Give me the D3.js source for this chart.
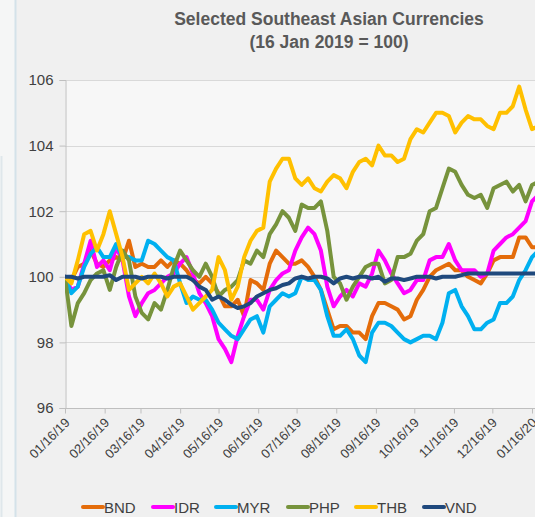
<!DOCTYPE html>
<html>
<head>
<meta charset="utf-8">
<script src="https://cdn.jsdelivr.net/npm/d3@7"></script>
<style>
  html, body { margin: 0; padding: 0; background: #f0f0f0; overflow: hidden; }
  svg { display: block; font-family: "Liberation Sans", Arial, sans-serif; }
</style>
</head>
<body>
<svg id="chart" width="535" height="517"></svg>
<script>
// sample dates (every 5 days from the base date)
var dates = ["2019-01-16","2019-01-21","2019-01-26","2019-01-31","2019-02-05","2019-02-10","2019-02-15","2019-02-20","2019-02-25","2019-03-02",
  "2019-03-07","2019-03-12","2019-03-17","2019-03-22","2019-03-27","2019-04-01","2019-04-06","2019-04-11","2019-04-16","2019-04-21",
  "2019-04-26","2019-05-01","2019-05-06","2019-05-11","2019-05-16","2019-05-21","2019-05-26","2019-05-31","2019-06-05","2019-06-10",
  "2019-06-15","2019-06-20","2019-06-25","2019-06-30","2019-07-05","2019-07-10","2019-07-15","2019-07-20","2019-07-25","2019-07-30",
  "2019-08-04","2019-08-09","2019-08-14","2019-08-19","2019-08-24","2019-08-29","2019-09-03","2019-09-08","2019-09-13","2019-09-18",
  "2019-09-23","2019-09-28","2019-10-03","2019-10-08","2019-10-13","2019-10-18","2019-10-23","2019-10-28","2019-11-02","2019-11-07",
  "2019-11-12","2019-11-17","2019-11-22","2019-11-27","2019-12-02","2019-12-07","2019-12-12","2019-12-17","2019-12-22","2019-12-27",
  "2020-01-01","2020-01-06","2020-01-11","2020-01-16","2020-01-21"];

var bnd = [100,99.9,100.3,100.4,100.8,100.4,100.3,100.5,100.6,100.5,
  101.1,100.3,100.4,100.3,100.3,100.5,100.3,100.5,100.4,100.2,
  99.9,99.8,100.0,99.8,99.5,99.1,99.1,99.3,98.8,99.9,
  99.8,99.6,100.4,100.8,100.6,100.4,100.4,100.5,100.3,100.0,
  99.6,99.0,98.4,98.5,98.5,98.3,98.3,98.1,98.8,99.2,
  99.2,99.1,99.0,98.7,98.8,99.3,99.6,100.0,100.2,100.3,
  100.4,100.2,100.2,100.0,99.9,99.8,100.1,100.5,100.6,100.6,
  100.6,101.2,101.2,100.9,100.9];

var idr = [100,99.6,99.7,100.4,101.1,100.3,100.5,100.2,100.9,100.5,
  99.4,98.8,99.2,99.5,99.6,99.8,100.0,100.1,100.4,100.6,
  100.1,99.5,99.2,98.8,98.1,97.8,97.4,98.2,98.8,99.3,
  99.3,99.0,99.6,99.9,100.1,100.2,100.8,101.2,101.5,101.3,
  100.8,99.7,99.1,99.4,99.6,99.4,99.8,99.7,100.1,100.8,
  100.5,100.1,99.8,99.5,99.6,99.9,99.9,100.5,100.6,100.6,
  101.0,100.5,100.2,100.2,100.2,100.0,100.1,100.8,101.0,101.2,
  101.3,101.5,101.7,102.3,102.5];

var myr = [100,99.5,99.7,100.3,100.7,100.9,100.6,100.6,101.0,100.6,
  100.6,100.5,100.5,101.1,101.0,100.8,100.6,100.5,99.8,99.2,
  99.4,99.3,99.3,99.0,98.6,98.4,98.2,98.1,98.4,98.7,
  98.8,98.3,99.1,99.3,99.5,99.4,99.5,100.0,99.9,99.9,
  99.6,98.8,98.2,98.2,98.4,98.1,97.6,97.4,98.3,98.6,
  98.6,98.5,98.3,98.1,98.0,98.1,98.2,98.2,98.1,98.6,
  99.5,99.6,99.1,98.8,98.4,98.4,98.6,98.7,99.2,99.2,
  99.4,99.9,100.2,100.6,100.8];

var php = [100,98.5,99.2,99.5,99.9,100.1,100.2,99.6,100.3,100.8,
  100.5,99.4,98.9,98.7,99.2,99.0,99.6,100.3,100.8,100.5,
  100.2,100.0,100.4,100.0,99.4,99.6,99.7,99.9,100.5,100.4,
  100.8,100.6,101.3,101.6,102.0,101.8,101.4,102.2,102.1,102.1,
  102.3,101.4,100.0,99.8,99.3,99.7,100.0,100.3,100.4,100.4,
  99.8,99.9,100.6,100.6,100.7,101.1,101.3,102.0,102.1,102.7,
  103.3,103.2,102.8,102.5,102.4,102.5,102.1,102.7,102.8,102.9,
  102.6,102.8,102.3,102.8,102.9];

var thb = [100,99.8,100.5,101.3,101.4,100.8,101.3,102.0,101.3,100.6,
  99.6,99.8,100.0,99.8,100.1,99.8,99.4,99.7,99.8,99.4,
  99.0,99.2,99.4,99.6,100.6,100.2,99.3,99.7,100.6,101.1,
  101.4,101.5,102.9,103.3,103.6,103.6,103.0,102.8,103.0,102.7,
  102.6,102.9,103.1,103.0,102.7,103.2,103.5,103.6,103.4,104.0,
  103.7,103.7,103.5,103.6,104.2,104.5,104.4,104.7,105.0,105.0,
  104.9,104.4,104.7,104.9,104.8,104.8,104.6,104.5,105.0,105.0,
  105.2,105.8,105.1,104.5,104.6];

var vnd = [100,100.0,99.95,100.0,100.0,100.0,100.0,100.05,99.9,100.0,
  100.0,100.0,99.95,100.0,100.0,100.0,99.95,100.0,100.0,100.0,
  99.9,99.7,99.6,99.3,99.4,99.3,99.15,99.05,99.1,99.2,
  99.4,99.5,99.6,99.65,99.75,99.8,99.95,100.0,99.95,100.0,
  100.0,99.95,99.8,99.95,100.0,99.95,100.0,100.0,99.95,100.0,
  99.85,99.95,99.95,99.9,99.95,100.0,100.0,100.0,99.95,100.0,
  100.0,100.0,100.05,100.1,100.1,100.1,100.1,100.1,100.1,100.1,
  100.1,100.1,100.1,100.1,100.1];

var seriesNames = ["BND", "IDR", "MYR", "PHP", "THB", "VND"];
var seriesValues = [bnd, idr, myr, php, thb, vnd];
var seriesColors = ["#e46c0a", "#ff00ff", "#00b0f0", "#77933c", "#ffc000", "#1f497d"];

var yTicks = [96, 98, 100, 102, 104, 106];
var xTickDates = ["2019-01-16","2019-02-16","2019-03-16","2019-04-16","2019-05-16","2019-06-16","2019-07-16",
  "2019-08-16","2019-09-16","2019-10-16","2019-11-16","2019-12-16","2020-01-16"];

var titleLines = ["Selected Southeast Asian Currencies", "(16 Jan 2019 = 100)"];

var svg = d3.select("#chart");
var W = 535, H = 517;
var margin = {top: 80, left: 65, bottom: 109};
var plotRight = 600;   // plot runs past the right edge of the window
var parseDay = d3.utcParse("%Y-%m-%d");

// page frame on the left
svg.append("rect").attr("x", 0).attr("y", 0).attr("width", 15).attr("height", H).attr("fill", "#f5f6f6");
svg.append("line").attr("x1", 15.5).attr("x2", 15.5).attr("y1", 0).attr("y2", H)
  .attr("stroke", "#d4e2e9").attr("stroke-width", 2);
svg.append("line").attr("x1", 1.5).attr("x2", 1.5).attr("y1", 156).attr("y2", H)
  .attr("stroke", "#dfe7eb").attr("stroke-width", 2);

var x = d3.scaleUtc()
  .domain([parseDay("2019-01-16"), parseDay("2020-01-16")])
  .range([margin.left, 532]);
var y = d3.scaleLinear().domain([96, 106]).range([H - margin.bottom, margin.top]);

// plot background
svg.append("rect")
  .attr("x", margin.left).attr("y", margin.top)
  .attr("width", plotRight - margin.left).attr("height", y(96) - y(106))
  .attr("fill", "#f7f7f7");

// gridlines
svg.append("g").selectAll("line").data(yTicks.slice(1)).enter().append("line")
  .attr("x1", margin.left).attr("x2", plotRight)
  .attr("y1", function(d){ return Math.round(y(d)) + 0.5; })
  .attr("y2", function(d){ return Math.round(y(d)) + 0.5; })
  .attr("stroke", "#d9d9d9").attr("stroke-width", 1);

// y axis
var yAxis = svg.append("g")
  .attr("transform", "translate(" + (margin.left + 0.5) + ",0)")
  .call(d3.axisLeft(y).tickValues(yTicks).tickSize(6).tickPadding(6).tickFormat(d3.format("d")));
yAxis.select(".domain").attr("stroke", "#bfbfbf");
yAxis.selectAll(".tick line").attr("stroke", "#bfbfbf");
yAxis.selectAll(".tick text").attr("fill", "#404040").style("font-size", "15px")
  .style("font-family", "'Liberation Sans', Arial, sans-serif");

// x axis
var xAxis = svg.append("g")
  .attr("transform", "translate(0," + (Math.round(y(96)) + 0.5) + ")")
  .call(d3.axisBottom(x).tickValues(xTickDates.map(parseDay)).tickSize(5).tickSizeOuter(0)
    .tickFormat(d3.utcFormat("%m/%d/%y")));
xAxis.select(".domain").attr("stroke", "#bfbfbf").attr("d", "M" + margin.left + ",0H" + plotRight);
xAxis.selectAll(".tick line").attr("stroke", "#bfbfbf");
xAxis.selectAll(".tick text")
  .attr("fill", "#404040").style("font-size", "13px")
  .style("font-family", "'Liberation Sans', Arial, sans-serif")
  .attr("text-anchor", "end")
  .attr("dy", null).attr("y", 0)
  .attr("transform", "translate(5,15) rotate(-45)");

// lines
svg.append("defs").append("clipPath").attr("id", "clip")
  .append("rect").attr("x", margin.left).attr("y", 0).attr("width", plotRight).attr("height", y(96));

var line = d3.line()
  .x(function(d, i){ return x(parseDay(dates[i])); })
  .y(function(d){ return y(d); });

var lines = svg.append("g").attr("clip-path", "url(#clip)");
seriesValues.forEach(function(vals, i){
  lines.append("path")
    .datum(vals)
    .attr("fill", "none")
    .attr("stroke", seriesColors[i])
    .attr("stroke-width", 4)
    .attr("stroke-linejoin", "round")
    .attr("stroke-linecap", "round")
    .attr("d", line);
});

// title
svg.append("g").selectAll("text").data(titleLines).enter().append("text")
  .attr("x", 329).attr("y", function(d, i){ return 25 + i * 23; })
  .attr("text-anchor", "middle")
  .attr("fill", "#595959")
  .style("font-size", "17.5px").style("font-weight", "bold")
  .text(function(d){ return d; });

// legend
var legendX = [82, 152, 215, 287, 355, 423];
var legend = svg.append("g").attr("transform", "translate(0,507)");
seriesNames.forEach(function(name, i){
  var g = legend.append("g").attr("transform", "translate(" + legendX[i] + ",0)");
  g.append("line").attr("x1", 1).attr("x2", 21).attr("y1", 0).attr("y2", 0)
    .attr("stroke", seriesColors[i]).attr("stroke-width", 4).attr("stroke-linecap", "round");
  g.append("text").attr("x", 22).attr("y", 5.5)
    .attr("fill", "#404040").style("font-size", "15px")
    .text(name);
});
</script>
</body>
</html>
